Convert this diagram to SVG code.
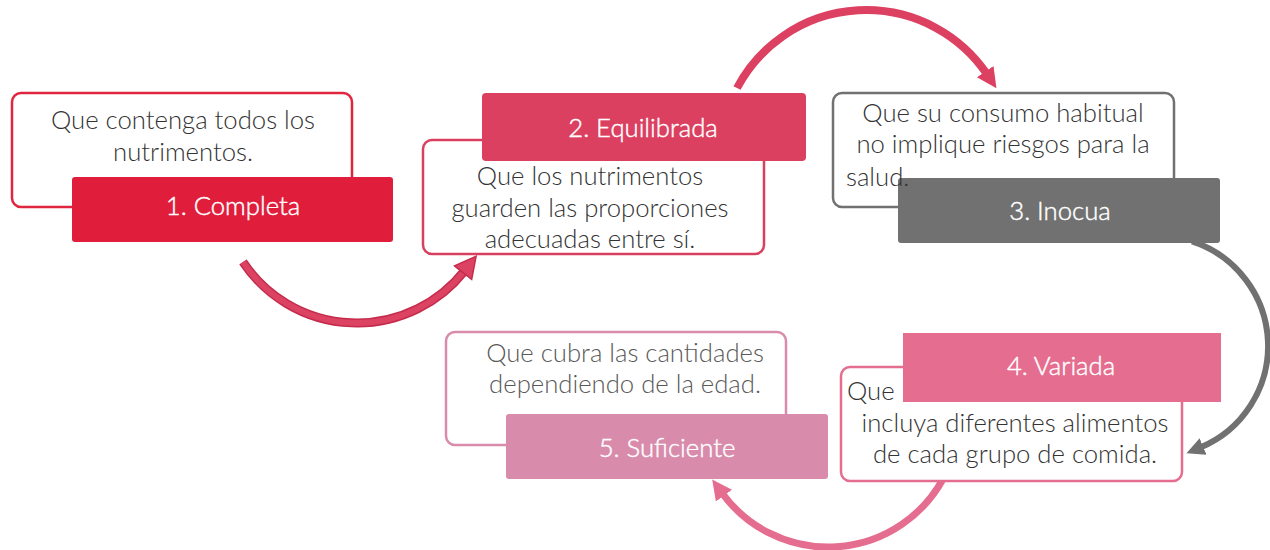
<svg xmlns="http://www.w3.org/2000/svg" width="1270" height="550" viewBox="0 0 1270 550">
<defs>
<style>
text{font-family:Lato,"Open Sans","Liberation Sans",sans-serif;font-size:25.7px;font-weight:300}
.d{fill:#333333}
.d5{fill:#595959}
.h{fill:#ffffff;stroke:#ffffff;stroke-width:0.45;text-anchor:middle}
.c{text-anchor:middle}
.o{fill:#ffffff;stroke-width:2.5}
</style>
<marker id="m1" markerUnits="userSpaceOnUse" markerWidth="26" markerHeight="26" refX="3" refY="12" orient="auto" viewBox="0 0 26 24"><path d="M1,1 L22,12 L1,23 z" fill="#dc4262" stroke="#c52c4c" stroke-width="1.5"/></marker>
<marker id="m2" markerUnits="userSpaceOnUse" markerWidth="24" markerHeight="24" refX="3" refY="11" orient="auto" viewBox="0 0 24 22"><path d="M0,1 L20,11 L0,21 z" fill="#dc4162"/></marker>
<marker id="m3" markerUnits="userSpaceOnUse" markerWidth="22" markerHeight="22" refX="3" refY="10" orient="auto" viewBox="0 0 22 20"><path d="M0,1 L18,10 L0,19 z" fill="#717171"/></marker>
<marker id="m4" markerUnits="userSpaceOnUse" markerWidth="24" markerHeight="24" refX="3" refY="11" orient="auto" viewBox="0 0 24 22"><path d="M0,1 L20,11 L0,21 z" fill="#e56d8f"/></marker>
</defs>
<g id="connectors" fill="none">
<path d="M243,262 A137,137 0 0 0 464.3,271.1" stroke="#c52c4c" stroke-width="9"/>
<path d="M243,262 A137,137 0 0 0 464.3,271.1" stroke="#dc4262" stroke-width="6" marker-end="url(#m1)"/>
<path d="M737,88 A146,146 0 0 1 986.9,74.1" stroke="#dc4162" stroke-width="8" marker-end="url(#m2)"/>
<path d="M1192,241.4 A110,110 0 0 1 1200.3,447.6" stroke="#717171" stroke-width="6" marker-end="url(#m3)"/>
<path d="M943,479 A131,131 0 0 1 722.2,493.2" stroke="#e56d8f" stroke-width="7" marker-end="url(#m4)"/>
</g>
<g id="node1">
<rect class="o" x="12" y="93" width="340" height="114" rx="9" stroke="#e0253f"/>
<text class="d c" x="183" y="129">Que contenga todos los</text>
<text class="d c" x="183" y="161">nutrimentos.</text>
<rect x="72" y="177" width="321" height="65" rx="3" fill="#e01e3c"/>
<text class="h" x="233" y="215">1. Completa</text>
</g>
<g id="node2">
<rect class="o" x="423" y="140" width="341" height="114" rx="9" stroke="#d94060"/>
<rect x="482" y="93" width="324" height="68" rx="4" fill="#db4060"/>
<text class="h" x="643" y="137">2. Equilibrada</text>
<text class="d c" x="590" y="185">Que los nutrimentos</text>
<text class="d c" x="590" y="217">guarden las proporciones</text>
<text class="d c" x="590" y="248">adecuadas entre sí.</text>
</g>
<g id="node3">
<rect class="o" x="833" y="93" width="341" height="114" rx="9" stroke="#717171"/>
<rect x="898" y="178" width="322" height="65" rx="3" fill="#717171"/>
<text class="d c" x="1003" y="122">Que su consumo habitual</text>
<text class="d c" x="1003" y="153">no implique riesgos para la</text>
<text class="d" x="846" y="186">salud.</text>
<text class="h" x="1060" y="220">3. Inocua</text>
</g>
<g id="node4">
<rect class="o" x="841" y="367" width="341" height="114" rx="9" stroke="#e56d8f"/>
<text class="d" x="847" y="400">Que</text>
<rect x="903" y="333" width="318" height="69" fill="#e56d8f"/>
<text class="h" x="1061" y="375">4. Variada</text>
<text class="d c" x="1015" y="432">incluya diferentes alimentos</text>
<text class="d c" x="1015" y="463">de cada grupo de comida.</text>
</g>
<g id="node5">
<rect class="o" x="446" y="332" width="340" height="113" rx="9" stroke="#d98bab"/>
<text class="d5 c" x="625" y="362">Que cubra las cantidades</text>
<text class="d5 c" x="625" y="393">dependiendo de la edad.</text>
<rect x="506" y="414" width="322" height="65" rx="3" fill="#d98bab"/>
<text class="h" x="667" y="457">5. Suficiente</text>
</g>
</svg>
